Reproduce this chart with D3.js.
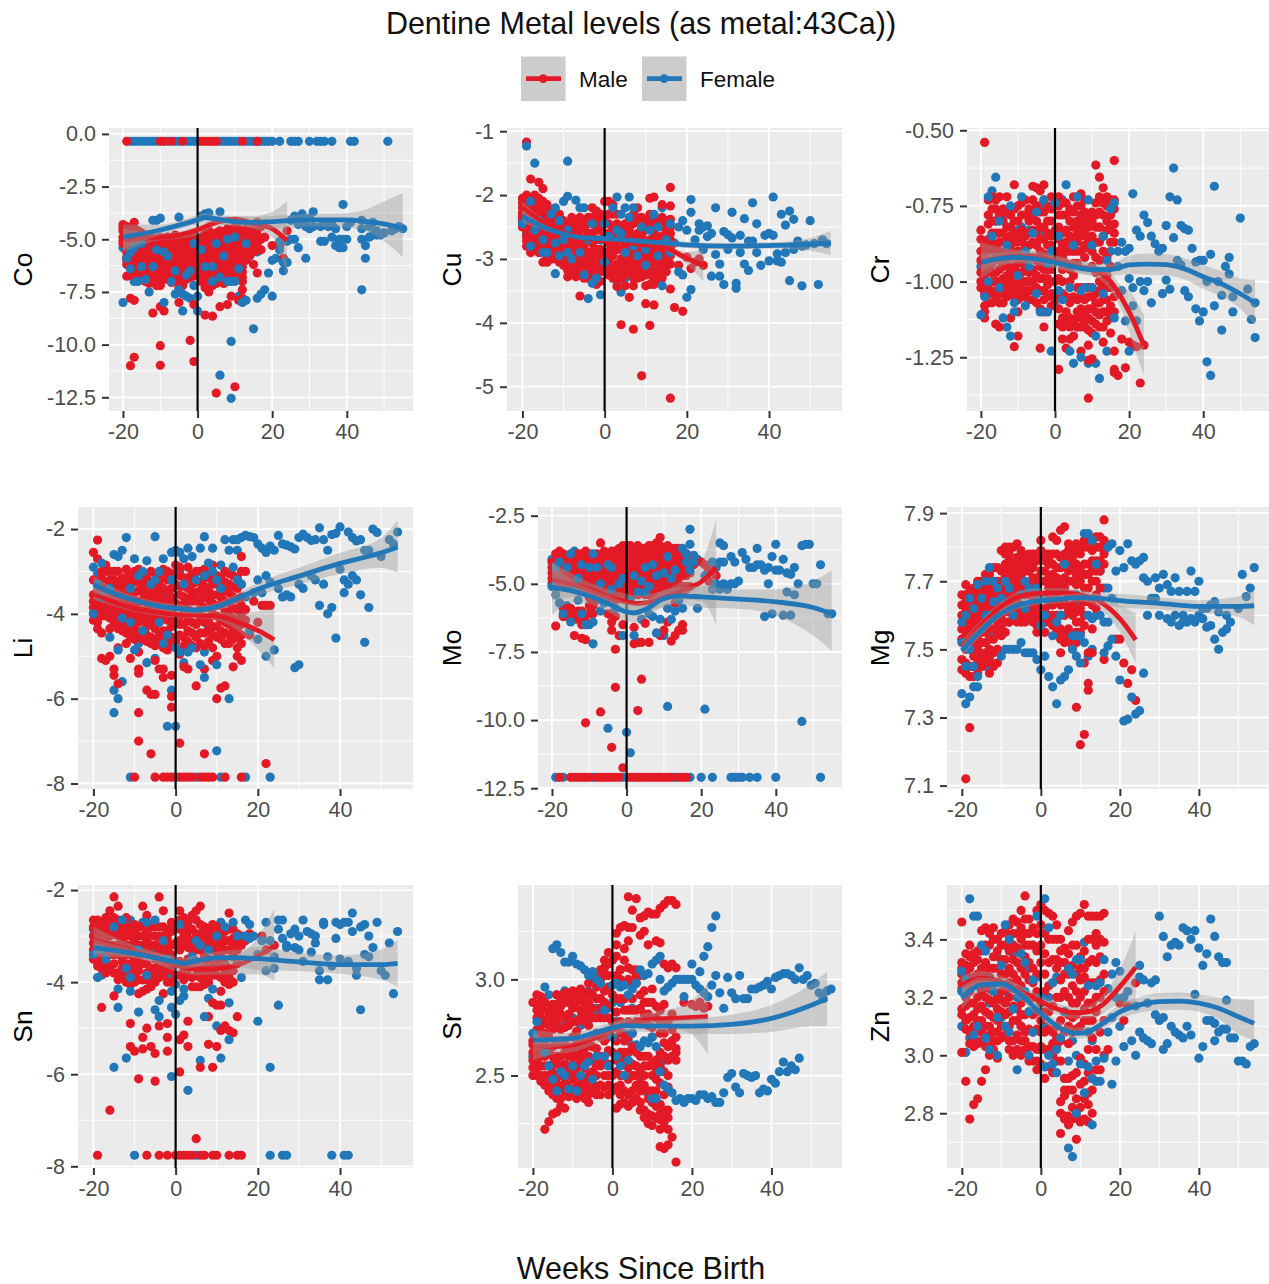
<!DOCTYPE html>
<html>
<head>
<meta charset="utf-8">
<script src="https://cdn.jsdelivr.net/npm/d3@7"></script>
<style>
  body { margin: 0; background: #fff; }
  text { font-family: "Liberation Sans", Arial, sans-serif; }
</style>
</head>
<body>
<svg id="chart" width="1269" height="1284"></svg>
<script>
// each row: week first, then the values read at that week
const coMale = [[-20,-4.3,-4.6,-4.9,-5.2],[-19,-4.4,-4.8,-5.6,-6,-6.2,-6.75],[-18,-4.5,-4.9,-5.4,-5.8,-6.3,-6.7,-7.8,-11],[-17,-4.2,-4.7,-5.3,-5.7,-6.1,-6.5,-7.9,-10.6],[-16,-4.6,-5.2,-5.5,-5.9,-6.3,-6.6],[-15,-4.7,-5.1,-5.6,-6,-6.4,-6.9],[-14,-4.8,-5.3,-5.8,-6.2,-6.6,-7],[-13,-5,-5.4,-5.7,-6.1,-6.6,-7.1],[-12,-4.9,-5.5,-5.9,-6.3,-6.8,-8.5],[-11,-5.1,-5.6,-6,-6.5,-7,-7.2],[-10,-4.9,-5.4,-5.8,-6.2,-6.7,-7.2,-8.2,-10.05,-10.98],[-9,-5,-5.5,-6,-6.4,-6.9,-8.4],[-8,-4.9,-5.3,-5.7,-6.1,-6.6,-6.9],[-7,-5.1,-5.6,-6,-6.5,-6.9],[-6,-4.8,-5.2,-5.8,-6.2,-6.7,-7],[-5,-5,-5.5,-5.9,-6.4,-6.8,-7.3,-8],[-4,-4.9,-5.4,-5.8,-6.3,-6.9,-7.2],[-3,-5.1,-5.6,-6.1,-6.7],[-2,-4.8,-5.3,-5.7,-6.2,-6.8,-9.8],[-1,-5,-5.5,-6,-6.5,-8.1,-10.8],[1,-4.9,-5.4,-5.9,-6.4,-7],[2,-4.7,-5.2,-5.6,-6.1,-6.7,-7.3,-8.6],[3,-4.6,-5.1,-5.7,-6.2,-6.8,-7.5],[4,-4.8,-5.3,-5.8,-6.3,-7.2,-8.65],[5,-4.7,-5.2,-5.6,-6.1,-6.6,-7.1,-12.3],[6,-4.6,-5.1,-5.5,-6,-6.5,-7,-8.2],[7,-4.7,-5.3,-5.8,-6.3,-6.8,-7.1],[8,-4.5,-5,-5.6,-6.1,-6.5,-8.1],[9,-4.6,-5.2,-5.7,-6.2,-6.6,-7.7],[10,-4.4,-4.9,-5.4,-5.9,-6.4,-12],[11,-4.5,-5,-5.5,-6,-6.5,-7.9],[12,-4.6,-5.2,-5.7,-6.3,-6.8,-7,-7.4,-7.8],[13,-4.5,-5,-5.4,-5.9,-6],[14,-4.6,-5.1,-5.5],[15,-4.5,-5,-5.3,-6.2],[16,-4.2,-4.8,-5.1,-6.6],[17,-4.4,-5,-5.5],[18,-4.9],[20,-5.3],[22,-5.3],[23,-5.9],[24,-4.6]];
const coMaleDense = [[-20,-4.45,-5.05],[-19,-4.6,-5.2,-5.85],[-18,-4.7,-5.15,-5.55,-6.05],[-17,-4.5,-5,-5.5,-5.9,-6.3],[-16,-4.9,-5.35,-5.7,-6.1,-6.45],[-15,-4.9,-5.35,-5.8,-6.2,-6.6],[-14,-5.05,-5.55,-6,-6.45,-6.8],[-13,-5.2,-5.55,-5.9,-6.35,-6.85],[-12,-5.2,-5.7,-6.1,-6.55,-7],[-11,-5.35,-5.8,-6.25,-6.75],[-10,-5.15,-5.6,-6,-6.45,-6.95],[-9,-5.25,-5.75,-6.2,-6.65],[-8,-5.1,-5.5,-5.9,-6.35,-6.75],[-7,-5.35,-5.8,-6.25,-6.7,-7.05],[-6,-5,-5.5,-6,-6.45,-6.85],[-5,-5.25,-5.7,-6.15,-6.6,-7],[-4,-5.15,-5.6,-6.05,-6.55],[-3,-4.9,-5.35,-5.85,-6.35,-6.9],[-2,-5.05,-5.5,-5.95,-6.5],[-1,-4.8,-5.25,-5.75,-6.25,-6.75],[0,-5.1,-5.6,-6.1,-6.6],[1,-5.15,-5.65,-6.15,-6.7],[2,-4.95,-5.4,-5.85,-6.4],[3,-4.85,-5.35,-5.95,-6.5,-7.1],[4,-5.05,-5.55,-6.05,-6.6,-6.9],[5,-4.95,-5.4,-5.85,-6.35,-6.85],[6,-4.85,-5.3,-5.75,-6.25,-6.75],[7,-5,-5.55,-6.05,-6.55],[8,-4.75,-5.3,-5.85,-6.3,-6.8],[9,-4.9,-5.45,-5.95,-6.4,-6.9],[10,-4.65,-5.15,-5.65,-6.15,-6.65],[11,-4.75,-5.25,-5.75,-6.25,-6.75],[12,-4.9,-5.45,-6,-6.55],[13,-4.75,-5.2,-5.65],[14,-4.85,-5.3,-5.75],[15,-4.75,-5.15,-5.6],[16,-4.55,-5.3,-5.5]];
const coFemale = [[-20,-5.4,-8],[-19,-5.9,-4.9],[-18,-6.4,-5.6],[-17,-7,-5.4],[-16,-7,-6.2],[-15,-6.3,-5.2],[-14,-5.5,-6.9],[-13,-7.5,-5.6],[-12,-4.1,-6.3],[-11,-4.1,-5.5],[-10,-4,-6.2],[-9,-8,-5.6],[-8,-6.5,-5.8],[-7,-7,-5.5],[-6,-7.6,-6.5],[-5,-3.95,-7.4],[-4,-8.4,-7.6],[-3,-7.7,-6.7],[-2,-7.8,-6.5],[-1,-5.2,-7.2],[0,-8.4,-7.7,-6],[1,-3.9,-5.5],[2,-3.8,-6.3],[3,-3.75,-5.9],[4,-6.3,-7],[5,-6.2,-5.2],[6,-3.7,-11.45,-6.8],[7,-5.8,-6.2],[8,-5,-7],[9,-12.55,-9.85,-7,-5.1],[10,-7,-4.9],[11,-7.7,-6.4],[12,-8,-5.6],[13,-7.9,-5.2],[14,-5.8],[15,-9.25],[16,-7.8,-5.6],[17,-7.6],[18,-7.4],[19,-6.6],[20,-7.7,-6],[21,-5.9],[22,-5.1,-5.5],[23,-6.5,-6.1],[24,-6.1,-5.1],[25,-5,-4.1],[26,-5,-3.9],[27,-5.4,-4.3],[28,-3.8,-4.2],[29,-5.9,-4.4],[30,-4.5,-4],[31,-3.7,-4.4],[33,-5.1,-4.4],[34,-5.1,-4.3],[35,-4.4],[36,-4.9,-4.3],[37,-5.3,-4.5],[38,-5,-5.4],[39,-5.4,-5,-3.35],[40,-5,-4.4],[41,-4.2],[44,-5,-4.1,-4.5,-7.4],[45,-5.3,-5.9],[46,-4.9,-4.4],[47,-4.8,-4.2],[48,-4.6,-4.8],[49,-4.8],[50,-4.7],[52,-4.6],[53,-4.5],[54,-4.4],[55,-4.5]];
const coMaleEdge = [-19,-10,-9,-7,-4,1,2,3,4,5,12,16];
const coFemaleEdge = [-18,-17,-16,-15,-14,-13,-12,-11,-8,-6,-5,-3,-2,-1,0,6,7,8,9,10,11,13,14,15,16,17,18,19,20,22,25,26,27,30,32,33,34,36,41,42,51];

const cuMale = [[-20,-2.05,-2.2,-2.35,-2.5],[-19,-1.17,-2,-2.15,-2.3,-2.55,-2.8],[-18,-1.75,-2.1,-2.3,-2.45,-2.65,-2.9],[-17,-2,-2.2,-2.4,-2.6,-2.75],[-16,-1.8,-2.05,-2.3,-2.5,-2.7,-2.9],[-15,-1.9,-2.2,-2.4,-2.6,-2.8,-3.05],[-14,-2.15,-2.35,-2.55,-2.75,-2.95],[-13,-2.25,-2.45,-2.65,-2.85,-3],[-12,-2.25,-2.5,-2.7,-2.95],[-11,-2.3,-2.5,-2.75,-2.9,-3.05],[-10,-2.4,-2.6,-2.8,-3.1],[-9,-2.45,-2.7,-2.9,-3.1,-3.28],[-8,-2.35,-2.55,-2.75,-2.95,-3.1],[-7,-2.4,-2.6,-2.85,-3.05,-3.28],[-6,-2.35,-2.55,-2.8,-3.15,-3.58],[-5,-2.4,-2.7,-2.95,-3.15,-3.3],[-4,-2.35,-2.6,-2.9,-3.2],[-3,-2.2,-2.45,-2.75,-3,-3.25],[-2,-2.4,-2.7,-3,-3.4],[-1,-2.3,-2.55,-2.85,-3.1],[1,-2.1,-2.45,-2.75,-3,-3.25],[2,-2.15,-2.5,-2.8,-3.1,-3.3],[3,-2.3,-2.6,-2.85,-3.3,-3.43],[4,-2.7,-3,-3.15,-4.03],[5,-2.45,-2.75,-3.05,-3.25],[6,-2.55,-2.85,-3.1,-3.6],[7,-2.3,-2.65,-2.95,-3.2,-3.42,-4.1],[8,-2.2,-2.6,-2.9,-3.1,-3.3],[9,-2.35,-2.65,-3,-3.15,-4.83],[10,-2.4,-2.8,-3.05,-3.42,-3.7],[11,-2.05,-2.3,-2.7,-3,-3.4,-4.04],[12,-2.03,-2.45,-2.75,-3.2,-3.4,-3.72],[13,-2.4,-2.65,-2.95,-3.2],[14,-2.15,-2.5,-2.85,-3,-3.3],[15,-2.4,-2.6,-2.8,-3.05],[16,-1.88,-2.17,-2.5,-2.7,-2.95,-3.47,-5.18],[17,-3.76],[18,-3.1],[19,-3.82],[20,-2.97],[21,-3.15],[22,-3.05],[23,-3],[24,-3.1]];
const cuMaleDense = [[-20,-2.12,-2.28,-2.42],[-19,-2.08,-2.22,-2.4,-2.48,-2.65,-2.72],[-18,-2.2,-2.38,-2.55,-2.75,-2.82],[-17,-2.1,-2.3,-2.5,-2.68,-2.85],[-16,-2.15,-2.4,-2.6,-2.8],[-15,-2.1,-2.3,-2.5,-2.7,-2.9],[-14,-2.25,-2.45,-2.65,-2.85,-3.05],[-13,-2.35,-2.55,-2.75,-2.93],[-12,-2.35,-2.6,-2.82,-3],[-11,-2.4,-2.62,-2.82,-2.98],[-10,-2.5,-2.7,-2.9,-3],[-9,-2.55,-2.8,-3,-3.18],[-8,-2.45,-2.65,-2.85,-3.02,-3.2],[-7,-2.5,-2.72,-2.95,-3.15],[-6,-2.45,-2.65,-2.9,-3.05,-3.25],[-5,-2.5,-2.82,-3.05,-3.22],[-4,-2.45,-2.72,-3,-3.1,-3.3],[-3,-2.35,-2.6,-2.88,-3.12],[-2,-2.25,-2.55,-2.85,-3.15,-3.28],[-1,-2.42,-2.7,-2.98,-3.2,-3.35],[0,-2.1,-2.35,-2.6,-2.95,-3.2],[1,-2.3,-2.6,-2.88,-3.12],[2,-2.3,-2.65,-2.95,-3.2],[3,-2.45,-2.72,-3.08,-3.2],[4,-2.5,-2.85,-3.08,-3.3],[5,-2.6,-2.9,-3.15,-3.42],[6,-2.4,-2.7,-2.98,-3.2],[7,-2.45,-2.8,-3.08,-3.3],[8,-2.4,-2.75,-3,-3.2],[9,-2.5,-2.82,-3.08,-3.28],[10,-2.55,-2.92,-3.15,-3.25],[11,-2.5,-2.85,-3.15,-3.25],[12,-2.6,-2.9,-3.05,-3.3],[13,-2.5,-2.8,-3.08,-3.35],[14,-2.35,-2.65,-2.92,-3.15],[15,-2.5,-2.7,-2.92,-3.2],[16,-2.38,-2.6,-2.82,-3.08]];
const cuFemale = [[-20,-2.35,-2.45],[-19,-1.23,-2.6],[-18,-2.1,-2.8],[-17,-1.5,-2.55],[-16,-2.4,-2.65],[-15,-2.7,-2.9],[-14,-2.4,-2.9],[-13,-2.3,-3],[-12,-2.2,-2.75,-3.23],[-11,-2.4,-2.95],[-10,-2.1,-2.7],[-9,-1.47,-2.02,-2.55,-2.9],[-8,-2.45,-3],[-7,-2.08,-2.6],[-6,-2.2,-2.9],[-5,-2.2,-3.25],[-4,-2.7,-3.62],[-3,-2.45,-3.38],[-2,-2.9,-3.3],[-1,-2.7,-3.56],[0,-2.45,-3.05],[1,-2.9,-2.65],[2,-2.2,-3.15],[3,-2.03,-2.55,-3.35],[4,-2.3,-2.6,-3.52],[5,-2.2,-2.9,-3.3],[6,-2.03,-2.35,-3.2],[7,-2.2,-2.8],[8,-2.35,-2.95],[9,-2.5,-2.75],[10,-2.85,-3.1],[11,-2.4,-2.55],[12,-2.3,-2.7],[13,-2.5,-2.95],[14,-2.2,-3.42],[15,-2.7,-3.1],[16,-2.45,-2.9],[17,-2.75],[18,-2.5,-3.2],[19,-2.4,-3.25],[20,-2.55,-3.6],[21,-2.07,-2.27,-3.48],[22,-2.7],[23,-2.45,-2.55],[24,-2.5,-2.85],[25,-2.48,-2.65],[26,-2.6,-3.27],[27,-2.2,-2.93],[28,-3.08,-3.27],[29,-2.57,-3.4],[30,-2.62,-2.85],[31,-2.27,-2.67],[32,-3.38,-3.46],[33,-2.63,-2.9],[34,-2.37,-3.08],[35,-2.72,-3.18],[36,-2.12,-2.72],[37,-2.45,-2.9],[38,-3.1],[39,-2.63],[40,-2.6,-3.03],[41,-2.03,-2.63],[42,-2.92,-3.03],[43,-2.3,-3.05],[44,-2.47,-2.9],[45,-2.25,-3.34],[46,-2.38,-2.85],[47,-2.72],[48,-2.8,-3.42],[49,-2.78],[50,-2.4],[51,-2.76],[52,-3.4],[53,-2.7],[54,-2.76]];

const crMale = [[-20,-0.83,-0.9,-0.97,-1.02],[-19,-0.54,-0.88,-0.95,-1,-1.08,-1.12],[-18,-0.73,-0.78,-0.86,-0.93,-1.02,-1.07],[-17,-0.72,-0.8,-0.87,-0.94,-1,-1.07],[-16,-0.73,-0.8,-0.88,-0.97,-1.03,-1.14],[-15,-0.72,-0.84,-0.9,-0.96,-1.04,-1.15],[-14,-0.76,-0.84,-0.91,-0.99,-1.04],[-13,-0.72,-0.82,-0.9,-0.98,-1.05],[-12,-0.78,-0.85,-0.92,-1,-1.04,-1.12],[-11,-0.68,-0.8,-0.87,-0.95,-1.02,-1.215],[-10,-0.75,-0.85,-0.9,-0.97,-1.03,-1.1,-1.18],[-9,-0.74,-0.83,-0.9,-0.97,-1.02],[-8,-0.73,-0.85,-0.92,-1,-1.05],[-7,-0.8,-0.88,-0.97,-1.03],[-6,-0.685,-0.73,-0.83,-0.92,-1,-1.06],[-5,-0.69,-0.8,-0.88,-0.98,-1.07],[-4,-0.7,-0.82,-0.9,-0.99,-1.09,-1.22],[-3,-0.68,-0.77,-0.86,-0.96,-1.03,-1.1,-1.15],[-2,-0.8,-0.88,-0.96,-1.01],[-1,-0.76,-0.85,-0.92,-1,-1.08],[1,-0.72,-0.78,-0.86,-0.93,-1.05,-1.14,-1.29],[2,-0.74,-0.84,-0.92,-1,-1.15,-1.19],[3,-0.78,-0.87,-0.94,-1.1,-1.22],[4,-0.76,-0.85,-0.96,-1.12,-1.15],[5,-0.72,-0.82,-0.9,-0.98,-1.14],[6,-0.8,-0.87,-0.94,-1.06,-1.12],[7,-0.71,-0.78,-0.85,-1.05,-1.12,-1.23],[8,-0.77,-0.84,-0.92,-1.06,-1.15],[9,-0.82,-0.89,-1.05,-1.16,-1.21,-1.26,-1.385],[10,-0.8,-0.9,-1.02,-1.09,-1.17,-1.255],[11,-0.615,-0.74,-0.82,-0.92,-1.04,-1.1],[12,-0.655,-0.77,-0.87,-1,-1.07,-1.15],[13,-0.69,-0.74,-0.85,-1.02,-1.1,-1.2],[14,-0.75,-0.83,-0.98,-1.06,-1.13],[15,-0.73,-0.82,-0.95,-1.08,-1.17],[16,-0.6,-0.76,-0.81,-0.87,-1.23,-1.29,-1.3],[17,-1.31],[18,-1.19],[19,-1.285],[20,-1.2],[21,-1.21],[22,-1.215],[23,-1.335],[24,-1.21]];
const crMaleDense = [[-20,-0.86,-0.93,-1],[-19,-0.91,-0.98,-1.04,-1.1],[-18,-0.81,-0.89,-0.96,-1.04],[-17,-0.76,-0.84,-0.9,-0.97,-1.04],[-16,-0.76,-0.84,-0.92,-1,-1.06],[-15,-0.78,-0.87,-0.93,-1,-1.07],[-14,-0.8,-0.87,-0.95,-1.02,-1.07],[-13,-0.77,-0.86,-0.94,-1.01],[-12,-0.82,-0.89,-0.96,-1.02],[-11,-0.76,-0.84,-0.91,-0.98,-1.05],[-10,-0.8,-0.87,-0.94,-1,-1.06],[-9,-0.78,-0.86,-0.93,-1,-1.05],[-8,-0.78,-0.88,-0.95,-1.03],[-7,-0.76,-0.84,-0.92,-1,-1.06],[-6,-0.78,-0.87,-0.96,-1.03],[-5,-0.75,-0.84,-0.93,-1.02],[-4,-0.77,-0.86,-0.95,-1.03],[-3,-0.73,-0.82,-0.91,-0.99,-1.06],[-2,-0.75,-0.84,-0.92,-0.99,-1.05],[-1,-0.72,-0.8,-0.88,-0.96,-1.04],[0,-0.74,-0.83,-0.91,-1,-1.06],[1,-0.75,-0.82,-0.9,-0.99,-1.09],[2,-0.78,-0.88,-0.96,-1.04,-1.12],[3,-0.74,-0.83,-0.9,-1.05,-1.14],[4,-0.8,-0.9,-1,-1.07,-1.19],[5,-0.77,-0.86,-0.94,-1.05,-1.18],[6,-0.75,-0.84,-0.9,-1.02,-1.1,-1.15],[7,-0.75,-0.82,-0.9,-1.02,-1.09,-1.15],[8,-0.73,-0.8,-0.88,-1.02,-1.1,-1.13],[9,-0.78,-0.86,-1.02,-1.09,-1.12],[10,-0.77,-0.85,-0.95,-1.05,-1.13],[11,-0.78,-0.87,-0.97,-1.07,-1.14],[12,-0.72,-0.82,-0.93,-1.03,-1.11],[13,-0.78,-0.9,-1,-1.06,-1.15],[14,-0.72,-0.8,-0.92,-1.02,-1.1],[15,-0.78,-0.87,-1.02,-1.12],[16,-0.73,-0.84,-1.05,-1.1]];
const crFemale = [[-20,-0.95,-1.11],[-19,-1.05,-0.9],[-18,-0.72,-1],[-17,-0.7,-0.85],[-16,-0.655,-0.8],[-15,-0.8,-1.02],[-14,-0.78,-1.12],[-13,-0.88,-1.15],[-12,-0.75,-1.18],[-11,-0.76,-1.07,-1.1],[-10,-0.83,-0.98],[-9,-0.72,-0.82],[-8,-1.08,-0.9],[-7,-0.83,-0.95],[-6,-0.84,-1],[-5,-0.77,-1.04],[-4,-0.75,-1.1],[-3,-0.73,-0.84],[-2,-0.94,-1.1],[-1,-1.23,-0.9],[0,-0.74,-1.08],[1,-0.85,-1.03],[2,-0.73,-1.06],[3,-0.68,-0.88],[4,-1.23,-1.02],[5,-1.27,-0.88],[6,-0.72,-1.15],[7,-1.25,-1.03],[8,-0.78,-1.02],[9,-0.73,-1.27],[10,-0.88,-1.02],[11,-1.27,-1.18],[12,-1.32,-0.82],[13,-0.85,-1.04],[14,-1.23,-0.93],[15,-0.76,-0.9],[16,-0.74,-1.12],[17,-0.9,-0.95],[18,-0.87,-1.03],[19,-0.9,-1.13],[20,-0.89,-1.23,-0.99],[21,-0.71,-1.08,-1.02],[22,-0.83,-1.13],[23,-0.85,-1],[24,-0.78,-1.03],[25,-0.805,-1],[26,-0.85,-1.07],[27,-0.875],[28,-0.9],[29,-0.89,-1.04],[30,-0.815,-0.995],[31,-0.72,-1.025],[32,-0.625,-0.855],[33,-0.73,-0.93],[34,-0.815,-0.945],[35,-0.825,-1.03],[36,-0.83,-1.05],[37,-0.89],[38,-0.935,-1.09],[39,-0.93,-1.13],[40,-0.93,-1.1],[41,-1,-1.265],[42,-0.91,-1.31],[43,-0.685,-1.08],[44,-1],[45,-1.045,-1.16],[46,-0.95],[47,-0.92,-0.975],[48,-1.05,-1.1],[50,-0.79],[52,-1.025],[53,-1.125],[54,-1.185,-1.07]];

const liMale = [[-20,-2.55,-3.2,-3.7,-4.15],[-19,-2.26,-2.7,-3.3,-3.8,-4.05,-4.35],[-18,-3,-3.45,-3.9,-4.45,-5.05],[-17,-2.85,-3.3,-3.7,-4.05,-5.1],[-16,-3,-3.5,-3.9,-4.1,-5],[-15,-3,-3.4,-3.8,-4.25,-5.3,-5.45],[-14,-3,-3.5,-3.85,-4.35,-4.8,-5.65],[-13,-3.15,-3.55,-3.9,-4.2],[-12,-2.95,-3.35,-3.8,-4.45,-4.7],[-11,-3.3,-3.7,-4.1,-4.35,-5.05],[-10,-3,-3.5,-3.85,-4.35,-4.6],[-9,-2.95,-3.25,-3.7,-4.2,-4.9,-5.3,-5.4,-6.33,-7],[-8,-3.1,-3.5,-3.95,-4.4],[-7,-3.35,-3.75,-4.1,-4.5,-5.8],[-6,-3,-3.6,-4.05,-4.55,-5.9,-7.3],[-5,-3.25,-3.65,-4.1,-4.6,-5.1,-5.9],[-4,-3.1,-3.5,-4,-4.5,-5.3],[-3,-2.95,-3.4,-3.9,-4.4,-4.8,-5.3,-5.5],[-2,-3.2,-3.75,-4.15,-4.6],[-1,-3.4,-3.85,-4.3,-4.75,-5.45,-5.95,-6.2],[1,-2.9,-3.35,-3.8,-4.25,-4.95,-7.05],[2,-3.15,-3.6,-4,-4.55,-5.25],[3,-2.9,-3.4,-3.9,-4.4,-5.3],[4,-3.3,-3.7,-4.2,-4.75],[5,-3,-3.5,-3.95,-4.55,-5.7],[6,-3.25,-3.7,-4.1,-4.7],[7,-3.15,-3.6,-4.45,-5.3,-7.3],[8,-3.45,-3.85,-4.4],[9,-2.85,-3.3,-3.75,-4.5,-5.1],[10,-3.1,-3.55,-4.3,-5,-6],[11,-3.4,-3.8,-4.4,-5.75],[12,-3.25,-3.7,-4.2,-4.7,-5.7],[13,-3.05,-3.5,-3.95,-4.5],[14,-3.1,-3.6,-4.1,-4.4,-5.25],[15,-3.4,-3.9,-4.4,-4.8,-5],[16,-2.65,-3,-3.6,-4,-4.5,-5.1],[17,-3,-3.9,-4.15],[18,-4.5],[19,-3.7],[20,-4.2],[21,-3.8],[22,-3.8,-7.53],[23,-3.8]];
const liMaleDense = [[-20,-3.55,-3.85,-4],[-19,-3.45,-3.65,-3.95,-4.2],[-18,-3.15,-3.6,-3.75,-4.05],[-17,-3,-3.5,-3.85,-4],[-16,-3.2,-3.65,-3.8,-4.35],[-15,-3.2,-3.6,-3.95,-4.15],[-14,-3.25,-3.65,-4.05,-4.2],[-13,-3.35,-3.7,-4.05,-4.4],[-12,-3.15,-3.55,-3.95,-4.3],[-11,-3.1,-3.5,-3.9,-4.2,-4.55],[-10,-3.25,-3.7,-4.05,-4.5],[-9,-3.45,-3.9,-4.05,-4.45],[-8,-3.3,-3.7,-4.15,-4.6],[-7,-3.15,-3.55,-3.9,-4.3,-4.65],[-6,-3.4,-3.8,-4.25,-4.7],[-5,-3.05,-3.45,-3.85,-4.35,-4.75],[-4,-3.3,-3.7,-4.2,-4.7],[-3,-3.15,-3.65,-4.1,-4.55],[-2,-3,-3.45,-3.95,-4.4,-4.85],[-1,-3.05,-3.6,-4.05,-4.55],[0,-2.85,-3.3,-3.75,-4.2,-4.65],[1,-3.1,-3.55,-4.05,-4.5],[2,-3.35,-3.8,-4.25,-4.75],[3,-3.15,-3.65,-4.15,-4.65],[4,-3.05,-3.5,-3.95,-4.45],[5,-3.25,-3.7,-4.25,-4.8],[6,-3,-3.45,-3.9,-4.45],[7,-2.95,-3.35,-3.85,-4.2,-4.75],[8,-3.15,-3.65,-4.15,-4.65],[9,-3.05,-3.55,-4,-4.3,-4.8],[10,-3.3,-3.8,-4.05,-4.55],[11,-3.15,-3.6,-4.15,-4.6],[12,-3,-3.45,-3.95,-4.45],[13,-3.3,-3.75,-4.25,-4.7],[14,-3.35,-3.85,-4.25,-4.6],[15,-3.15,-3.65,-4.15,-4.55],[16,-3.3,-3.8,-4.25,-4.7]];
const liFemale = [[-20,-2.9,-4],[-19,-3.3,-3.05],[-18,-2.8,-3.6],[-16,-4.55,-3.4],[-15,-2.6,-5.8,-6.33],[-14,-2.65,-6,-4.85],[-13,-2.5,-5.6,-4.1],[-12,-2.2,-3.2],[-11,-3.4,-4.2],[-10,-2.7,-4.85],[-9,-3.1,-4.7],[-8,-3,-4.4],[-7,-2.75,-5.15],[-6,-3.3,-4.6],[-5,-2.18,-3.2,-5.05],[-4,-3,-4.2],[-3,-2.7,-4.7],[-2,-6.65,-3.5,-4.5],[-1,-2.55,-5.8,-3.2],[0,-2.5,-6.65,-4.8],[1,-2.55,-3,-4.9],[2,-2.7,-5.15,-3.3],[3,-2.45,-3.7,-4.9],[4,-2.65,-3.1,-4.8],[5,-3.2,-4.5],[6,-2.45,-5.2,-3.5],[7,-2.18,-5.5,-4.9,-3.1],[8,-2.8,-4.3],[9,-2.45,-3],[10,-7.23,-5.2,-3.2],[11,-2.85,-3.4],[12,-2.25,-3],[13,-2.5,-6,-3.4],[14,-2.25,-2.9],[15,-2.5,-2.25,-3.2],[16,-2.2,-3.3],[17,-2.15,-3.6],[18,-2.18,-4.4],[19,-2.2,-3.5],[20,-2.35,-3.2,-4.6],[21,-2.45,-3.5],[22,-2.55,-3.1,-5],[23,-2.4,-3.25],[24,-2.5,-4.85],[25,-2.15,-3.4],[26,-2.35,-3.6],[27,-2.38,-3.55],[28,-2.42,-3.6],[29,-2.47,-5.27],[30,-2.2,-3.3,-5.2],[31,-2.12,-3.4],[32,-2.2],[33,-2.27,-3.1],[34,-2.25,-3.2],[35,-1.97,-3.8],[36,-2.25,-3.3],[37,-2.5,-4],[38,-2.13,-3.85],[39,-2.1,-4.57],[40,-1.95,-2.95],[41,-3.2,-3.5],[42,-2.07,-3.3],[43,-2.2,-3.1],[44,-2.28,-3.2],[45,-2.25,-3.55],[46,-2.5,-4.67],[47,-2.5,-3.85],[48,-2],[49,-2.08],[50,-2.65],[52,-2.25],[53,-2.35],[54,-2.07]];
const liMaleEdge = [-10,-5,-3,-2,-1,1,2,3,4,6,7,8,9,12,16];
const liFemaleEdge = [-11,0,5,11,17,23];

const moMale = [[-20,-4.2,-4.6,-5],[-19,-3.9,-4.4,-4.8,-6.55],[-18,-3.8,-4.3,-4.7,-5.1],[-17,-4.1,-4.5,-4.9,-5.9],[-16,-4,-4.6,-5,-6,-6.2],[-15,-4.3,-4.8,-5.9,-6.3],[-14,-4,-4.5,-4.9,-6.1,-6.9],[-13,-4.1,-4.7,-5.1,-6.2,-6.3],[-12,-3.9,-4.4,-4.8,-6,-6.5,-7],[-11,-3.8,-4.3,-4.9,-5.2,-6.4,-7.05,-10.1],[-10,-4.1,-4.6,-5,-5.5,-6.1],[-9,-4,-4.5,-5.1,-5.6,-6.1],[-8,-3.9,-4.3,-4.9,-5.3],[-7,-3.5,-4.2,-4.7,-5.2,-9.7],[-6,-4,-4.5,-5,-5.5],[-5,-3.9,-4.4,-4.8,-5.4,-6.1],[-4,-3.8,-4.2,-4.9,-6.4,-6.7,-11],[-3,-4,-4.5,-5.3,-6.2,-7.4,-8.8],[-2,-3.9,-4.3,-4.7,-5.1,-6.9],[-1,-3.6,-4.1,-4.6,-5,-5.5,-6.5],[1,-3.6,-4,-4.5,-5,-5.5],[2,-3.7,-4.2,-4.6,-5.1,-6.6,-7.2],[3,-3.8,-4.3,-4.8,-5.4,-7.15,-9.65],[4,-3.7,-4.1,-4.6,-5,-7.15,-8.5],[5,-4,-4.4,-4.9,-5.4,-6.45],[6,-3.6,-4.2,-4.7,-5.2,-7.15],[7,-3.8,-4.3,-4.8,-5.6],[8,-3.5,-4,-4.5,-5,-5.5],[9,-3.3,-3.9,-4.4,-4.9,-6.9],[10,-3.7,-4.2,-4.7,-5.2,-6.7],[11,-3.8,-4.3,-4.8,-5.4,-6.4],[12,-3.7,-4.1,-4.6,-5.1,-7.1],[13,-3.7,-4.3,-4.8,-5.7,-6.9],[14,-3.8,-4.5,-5,-6.7],[15,-4,-4.4,-5.1,-6.5,-6.7],[16,-3.9,-4.5,-5.1],[17,-4.6,-5.1],[18,-4.3],[20,-4.2],[21,-4.3],[22,-4.5,-4.9],[24,-4.7]];
const moMaleDense = [[-20,-4.4,-4.8],[-19,-4.2,-4.6,-5],[-18,-4.1,-4.5,-4.9],[-17,-3.9,-4.3,-4.7,-5.1,-6.2],[-16,-4.2,-4.4,-4.8,-5.9],[-15,-4.1,-4.5,-5,-6.1],[-14,-4.2,-4.7,-5.1,-6.3],[-13,-3.9,-4.4,-4.9,-6],[-12,-4.1,-4.6,-5,-6.2],[-11,-4,-4.5,-4.7,-6.15],[-10,-3.9,-4.3,-4.8,-5.2,-5.8],[-9,-4.2,-4.7,-4.9,-5.3,-5.8],[-8,-4.1,-4.6,-5.1,-5.5],[-7,-4,-4.4,-4.9,-5.4],[-6,-3.8,-4.2,-4.7,-5.2],[-5,-4.1,-4.6,-5.1,-5.6],[-4,-4,-4.5,-5.1,-5.5,-6.1],[-3,-3.8,-4.2,-4.7,-5,-5.6],[-2,-3.7,-4.1,-4.5,-4.9,-5.3],[-1,-3.8,-4.3,-4.8,-5.2],[0,-3.6,-3.9,-4.4,-4.9,-5.3],[1,-3.8,-4.2,-4.7,-5.2],[2,-3.9,-4.4,-4.8,-5.3],[3,-3.6,-4.1,-4.5,-5,-5.2],[4,-3.9,-4.3,-4.8,-5.2],[5,-3.7,-4.2,-4.6,-5.1],[6,-3.9,-4.4,-4.9,-5.4],[7,-3.6,-4,-4.5,-5,-5.3],[8,-3.7,-4.2,-4.7,-5.2],[9,-3.6,-4.1,-4.6,-5.1],[10,-3.9,-4.4,-4.9,-5.4],[11,-3.6,-4,-4.5,-5.1],[12,-3.9,-4.3,-4.8,-5.3],[13,-4,-4.5,-5.1,-5.4],[14,-3.7,-4.2,-4.7,-5.3],[15,-3.8,-4.2,-4.7,-5.3],[16,-4.1,-4.7,-5.2]];
const moFemale = [[-20,-4.1,-5.1],[-19,-4.4,-5.4],[-18,-4.2,-5.7],[-17,-4.6,-6.1],[-16,-4.4,-5.8],[-15,-3.9,-6.4],[-14,-3.8,-5.1],[-13,-4.8,-5.6],[-12,-4.3,-6.1],[-11,-4.9,-6.5],[-10,-4.4,-6.5],[-9,-3.9,-7.2,-5.5,-6.4],[-8,-4.4,-5.6],[-7,-5,-6],[-6,-4.5,-5.7],[-5,-4.3,-10.3],[-4,-4.4,-5.2],[-3,-4.8,-5.9],[-2,-5,-5.5],[-1,-4.8,-6.9],[0,-4.6,-10.45],[1,-5.6,-11.2],[2,-4.7,-6.9],[3,-4.5,-5.3],[4,-4.9,-6.3],[5,-4.4,-5.3],[6,-6.1,-5.1],[7,-4.3,-6.2],[8,-4.7,-6.8],[9,-4.7,-6.3],[10,-4.6,-6.9],[11,-4,-9.5,-5.9],[12,-4.8,-6.3],[13,-3.9,-4.5,-6],[14,-3.8,-5.6],[15,-3.7,-5.9],[16,-3.9,-4.2],[17,-3,-3.55,-4.5],[18,-3.95,-4.2],[19,-5.9,-4.1],[21,-9.6,-4.7],[22,-4.6],[23,-4.2,-5.2],[24,-4.4,-5],[25,-3.5,-4.2,-5.2],[26,-3.6,-4.2,-5],[27,-5.2],[28,-4,-5],[29,-4.2,-5],[30,-4.9],[31,-3.85],[32,-4.1],[33,-4.4],[34,-4.4],[35,-3.7,-4.3],[36,-4.3],[37,-4.5,-6.2],[38,-4.4,-5],[39,-4,-6.1],[40,-3.55,-4.5],[41,-4.5],[42,-4.1,-6.15],[43,-4.6,-5.3],[44,-4.65,-6.15],[45,-4.4,-5.4],[46,-5],[47,-3.6,-10.05],[48,-3.55],[49,-3.55],[50,-5],[51,-5],[52,-4.3],[54,-6.1],[55,-6.1]];
const moMaleEdge = [-18,-15,-14,-13,-12,-11,-10,-8,-7,-6,-5,-4,-3,-2,1,2,3,4,5,6,7,8,9,10,11,12,14,15,16];
const moFemaleEdge = [-19,-17,-9,0,-1,13,17,20,23,28,29,30,31,33,35,40,52];
const moMaleExtra = [[-1,-11.75]];

const mgMale = [[-20,7.44,7.53,7.6,7.66],[-19,7.12,7.43,7.5,7.58,7.64,7.69],[-18,7.27,7.42,7.5,7.56,7.62,7.67],[-17,7.42,7.48,7.55,7.6,7.66],[-16,7.43,7.5,7.56,7.62,7.68],[-15,7.45,7.52,7.58,7.64,7.7],[-14,7.46,7.52,7.57,7.63,7.69],[-13,7.43,7.5,7.56,7.62,7.68,7.72],[-12,7.45,7.53,7.6,7.66,7.74],[-11,7.46,7.55,7.6,7.67,7.74],[-10,7.57,7.63,7.7,7.79],[-9,7.55,7.62,7.68,7.75,7.8],[-8,7.58,7.64,7.7,7.76,7.8],[-7,7.6,7.65,7.72,7.8],[-6,7.58,7.64,7.7,7.74,7.81],[-5,7.6,7.66,7.72,7.79],[-4,7.58,7.66,7.7,7.77],[-3,7.6,7.66,7.73,7.78],[-2,7.62,7.68,7.74,7.78],[-1,7.55,7.6,7.69,7.76],[0,7.56,7.62,7.7,7.77,7.82],[1,7.55,7.62,7.7,7.78],[2,7.58,7.68,7.75,7.76],[3,7.6,7.66,7.72,7.83],[4,7.55,7.6,7.68,7.74,7.82],[5,7.53,7.6,7.68,7.74,7.49,7.85],[6,7.52,7.6,7.68,7.75,7.86],[7,7.53,7.62,7.7,7.76,7.81],[8,7.51,7.6,7.66,7.74,7.8],[9,7.52,7.58,7.65,7.72,7.81,7.33],[10,7.55,7.62,7.7,7.78,7.22],[11,7.46,7.57,7.64,7.72,7.82,7.25],[12,7.38,7.4,7.49,7.64,7.72,7.8],[13,7.49,7.56,7.7,7.76,7.82],[14,7.62,7.7,7.76,7.83],[15,7.68,7.76,7.8],[16,7.47,7.75,7.79,7.88],[19,7.53],[20,7.53],[21,7.46],[22,7.4],[23,7.44],[24,7.35]];
const mgMaleDense = [[-20,7.47,7.56,7.63],[-19,7.46,7.54,7.61,7.66],[-18,7.45,7.53,7.59,7.65],[-17,7.45,7.52,7.58,7.63,7.68],[-16,7.46,7.53,7.59,7.65,7.7],[-15,7.48,7.55,7.61,7.67],[-14,7.49,7.55,7.6,7.66,7.72],[-13,7.47,7.53,7.59,7.65,7.7],[-12,7.49,7.56,7.63,7.7],[-11,7.5,7.58,7.63,7.7],[-10,7.54,7.6,7.66,7.73],[-9,7.58,7.65,7.71,7.78],[-8,7.61,7.67,7.73,7.78],[-7,7.62,7.68,7.75],[-6,7.61,7.67,7.72,7.77],[-5,7.58,7.63,7.69,7.75],[-4,7.6,7.68,7.73,7.75],[-3,7.63,7.69,7.75],[-2,7.58,7.65,7.71,7.76],[-1,7.57,7.63,7.71,7.78],[0,7.59,7.65,7.73,7.79],[1,7.58,7.65,7.73,7.76],[2,7.6,7.65,7.71,7.78],[3,7.57,7.63,7.69,7.75,7.78],[4,7.58,7.65,7.71,7.78],[5,7.56,7.63,7.7,7.77],[6,7.55,7.64,7.71,7.78],[7,7.56,7.66,7.73,7.79],[8,7.54,7.63,7.7,7.77],[9,7.55,7.61,7.69,7.75,7.79],[10,7.58,7.65,7.74,7.8],[11,7.6,7.68,7.75,7.8],[12,7.68,7.75,7.83],[13,7.63,7.73,7.79],[14,7.66,7.73,7.8],[15,7.73,7.83],[16,7.78,7.82]];
const mgFemale = [[-20,7.37,7.52,7.58],[-19,7.34,7.45,7.6],[-18,7.36,7.5,7.65],[-17,7.39,7.45,7.62],[-16,7.39,7.42,7.69],[-15,7.47,7.56,7.65],[-14,7.45,7.6,7.7],[-13,7.5,7.6,7.74],[-12,7.55,7.64,7.7],[-11,7.6,7.68],[-10,7.48,7.55,7.65],[-9,7.5,7.62,7.7],[-8,7.5,7.58,7.68],[-7,7.5,7.75,7.6],[-6,7.5,7.62],[-5,7.52,7.66],[-4,7.49,7.62,7.7],[-3,7.49,7.68],[-2,7.49,7.6],[-1,7.47,7.68],[0,7.44,7.57,7.65],[1,7.48,7.6],[2,7.42,7.63],[3,7.39,7.54,7.7],[4,7.34,7.58,7.65],[5,7.41,7.6],[6,7.42,7.75],[7,7.44,7.62],[8,7.5,7.54,7.78],[9,7.48,7.54,7.66],[10,7.46,7.54,7.64],[11,7.52,7.84],[12,7.48,7.6,7.84],[13,7.5,7.59,7.82],[14,7.6,7.75],[15,7.6,7.73],[16,7.49,7.58,7.68],[17,7.51,7.58,7.68,7.8],[18,7.53,7.65,7.81],[19,7.48,7.73],[20,7.41,7.79],[21,7.29,7.74],[22,7.295,7.81],[23,7.36,7.76],[24,7.31,7.75],[25,7.32,7.76],[26,7.43,7.77,7.71],[27,7.6,7.7],[28,7.65],[29,7.71,7.65],[30,7.68,7.6],[31,7.72],[32,7.59,7.69],[33,7.58,7.67],[34,7.71,7.6],[35,7.57,7.67],[36,7.6,7.58],[37,7.58,7.67],[38,7.73,7.59],[39,7.58,7.67],[40,7.7,7.6],[41,7.59,7.62],[42,7.565,7.62],[43,7.63,7.57],[44,7.53,7.64],[45,7.5,7.61],[46,7.55],[47,7.56,7.6],[48,7.58],[50,7.62],[51,7.72],[52,7.655],[53,7.68],[54,7.74]];

const snMale = [[-20,-2.65,-3,-3.3],[-19,-2.65,-3.05,-3.4,-3.65],[-18,-2.7,-3,-3.35,-3.7,-4.55],[-17,-2.6,-2.95,-3.3,-3.7],[-16,-2.45,-2.8,-3.25,-3.65,-6.78],[-15,-2.15,-2.75,-3.2,-3.6,-4.3],[-14,-2.35,-2.8,-3.2,-3.8],[-13,-2.7,-3.1,-3.55,-3.9],[-12,-2.6,-3,-3.4,-3.8],[-11,-2.85,-3.2,-3.6,-4.9,-5.4],[-10,-2.9,-3.25,-3.7,-4,-5.5],[-9,-3,-3.35,-3.75,-4.25,-6.1],[-8,-2.35,-3,-3.4,-4.2,-5.2,-5.45],[-7,-2.55,-3.05,-3.8,-4.15,-5],[-6,-2.8,-3.2,-3.7,-5.4],[-5,-3,-3.5,-4,-5.55,-6.15],[-4,-2.15,-2.8,-3.35,-3.9,-4.95],[-3,-2.45,-3,-3.65,-4.25],[-2,-3.05,-3.5,-4,-4.9,-5.2,-5.5],[-1,-2.7,-3.2,-3.75],[1,-2.45,-2.85,-3.3,-3.85,-5.25,-5.95],[2,-2.6,-3,-3.6,-3.95,-5.15],[3,-2.9,-3.25,-3.85,-4.85,-5.4],[4,-2.55,-3.1,-3.45,-4.1],[5,-2.45,-2.95,-3.3,-3.85,-7.4],[6,-2.35,-2.75,-3.1,-4.1,-5.85],[7,-2.8,-3.2,-3.65,-4.05],[8,-2.85,-3.25,-4,-5.35,-4.75],[9,-2.75,-3.1,-3.85,-4.45,-5.85],[10,-3,-3.35,-4.5,-5.4],[11,-2.9,-3.2,-4.2,-4.5,-5.05],[12,-3.1,-3.6,-4,-4.95],[13,-2.5,-3.1,-3.9,-5.05],[14,-2.85,-3.25,-3.75,-5.1],[15,-3.1,-3.6,-4.75],[16,-3.2],[17,-3.1],[18,-2.95],[21,-3],[22,-3.3],[24,-3.2]];
const snMaleDense = [[-20,-2.8,-3.15,-3.5],[-19,-2.85,-3.2,-3.55],[-18,-2.85,-3.15,-3.55],[-17,-2.8,-3.15,-3.5,-3.8],[-16,-2.65,-3,-3.4,-3.75],[-15,-2.6,-2.95,-3.4,-3.8],[-14,-2.65,-3,-3.4,-3.95],[-13,-2.9,-3.3,-3.7],[-12,-2.8,-3.2,-3.6,-4],[-11,-3,-3.4,-3.8,-4.05],[-10,-2.75,-3.1,-3.5,-3.85],[-9,-2.8,-3.2,-3.55,-3.95],[-8,-2.8,-3.2,-3.6,-3.95],[-7,-2.85,-3.25,-3.6,-3.95],[-6,-3,-3.4,-3.9,-4.1],[-5,-2.8,-3.2,-3.7,-3.85],[-4,-3,-3.15,-3.55,-3.7],[-3,-2.8,-3.2,-3.45,-3.85],[-2,-2.85,-3.3,-3.7],[-1,-2.9,-3.4,-3.55,-4],[0,-2.75,-3.15,-3.6,-3.85],[1,-2.65,-3.1,-3.55],[2,-2.8,-3.2,-3.75],[3,-2.7,-3.05,-3.5,-3.7],[4,-2.85,-3.3,-3.65,-3.9],[5,-2.65,-3.15,-3.55,-4.1],[6,-2.95,-3.3,-3.7,-3.9],[7,-3,-3.45,-3.85],[8,-3.05,-3.5,-3.8],[9,-2.95,-3.3,-3.65],[10,-2.8,-3.15,-3.6,-3.85],[11,-3.05,-3.45,-3.9],[12,-2.9,-3.3,-3.8],[13,-2.85,-3.3,-3.7,-4.05],[14,-3.05,-3.45,-4],[15,-2.95,-3.3],[16,-3]];
const snFemale = [[-20,-2.85,-3.4],[-19,-3.9],[-18,-3.85,-3.3],[-17,-3.5],[-16,-3.2],[-15,-5.85,-2.8],[-14,-4.15,-4.55],[-13,-2.65,-3.4],[-12,-5.65,-3.7],[-11,-2.65,-4.2,-3.9],[-10,-3.6],[-9,-4.65,-3.3],[-8,-2.7],[-7,-2.7,-3.85],[-6,-3.3],[-5,-2.65,-4.6],[-4,-4.75,-4.4],[-3,-3.1],[-2,-3.9,-3.5],[-1,-6.05,-4.55,-4.2],[0,-4.7,-4.05],[1,-2.75,-4.4],[2,-4.15,-4.3],[3,-6.35,-2.8],[4,-3.45],[5,-3.1],[6,-5.7,-3.2],[7,-4.75],[8,-4.35,-3.3],[9,-4.15],[10,-4.95,-3],[11,-5.65,-2.7],[12,-2.8],[13,-5.25,-4.45],[14,-2.7],[15,-3],[16,-3.9],[17,-2.65,-3],[18,-2.75,-3.05],[19,-3],[20,-4.85,-3.4],[21,-3.1],[22,-2.7,-3.75],[23,-3.1,-5.85],[24,-3.7,-3.45],[25,-2.65,-4.5,-2.85],[26,-2.65,-3.05],[27,-3.2,-3.25],[28,-2.95],[29,-2.85,-3.25],[30,-3.3,-3],[31,-2.65,-3.55],[32,-2.9],[33,-3.35,-2.95],[34,-3,-3.15],[35,-3.95,-3.75],[36,-2.7,-2.75],[37,-3.95,-3.45],[38,-3.65],[39,-3.05,-2.7],[40,-2.75,-3.5],[41,-2.7],[42,-2.7,-3.55],[43,-2.5,-2.9],[44,-3.85,-3.7],[45,-2.8,-4.6],[46,-2.75,-3.4],[47,-3,-3.45],[48,-3.25],[49,-2.7],[50,-3.75],[51,-3.85],[52,-3.15],[53,-4.25],[54,-2.9]];
const snMaleEdge = [-19,-7,-4,-2,0,1,2,3,4,6,7,9,10,13,15,16];
const snFemaleEdge = [-10,5,23,26,27,38,41,42];

const srMale = [[-20,2.5,2.62,2.68,2.88],[-19,2.5,2.58,2.74,2.87,2.92],[-18,2.47,2.55,2.65,2.8,2.91],[-17,2.22,2.45,2.6,2.72,2.85],[-16,2.26,2.42,2.55,2.7,2.82],[-15,2.3,2.4,2.52,2.65,2.8,2.87],[-14,2.31,2.5,2.6,2.78,2.87],[-13,2.34,2.38,2.55,2.68,2.82,2.9],[-12,2.33,2.42,2.5,2.62,2.75,2.88,2.93],[-11,2.39,2.5,2.6,2.82,2.93],[-10,2.4,2.48,2.56,2.7,2.85,2.9],[-9,2.38,2.5,2.6,2.73,2.88,2.93],[-8,2.41,2.55,2.62,2.8,2.9],[-7,2.38,2.48,2.58,2.85,2.92],[-6,2.36,2.45,2.6,2.82,2.93],[-5,2.42,2.52,2.65,2.85,3],[-4,2.4,2.5,2.58,2.72,2.9,3.01],[-3,2.4,2.55,2.8,2.9,3.05],[-2,2.44,2.6,2.72,2.88,3.02,3.1],[-1,2.45,2.5,2.63,2.8,2.96,3.14],[1,2.33,2.52,2.68,2.83,2.98,3.24,3.12],[2,2.35,2.45,2.56,2.78,3.05,3.27,3.05],[3,2.42,2.58,2.68,2.9,3.28,3.16],[4,2.34,2.48,2.62,2.78,3,3.27,3.43],[5,2.36,2.5,2.65,2.9,3.05,3.27,3.36],[6,2.45,2.55,2.78,2.98,3.42,3.05],[7,2.32,2.42,2.52,2.85,3.02,3.32,3.23],[8,2.28,2.45,2.6,2.88,3.33,3.25],[9,2.25,2.38,2.55,2.82,3.35,3.18],[10,2.24,2.36,2.5,2.7,2.95,3.34],[11,2.28,2.42,2.53,2.86,3.34,3.2],[12,2.13,2.27,2.35,2.55,2.72,2.84,3.37,3.19],[13,2.12,2.23,2.32,2.52,2.67,2.87,3.39,3.08],[14,2.14,2.28,2.5,2.65,3.41,3.06],[15,2.18,2.68,2.82,3.41,3.08],[16,2.05,2.58,2.7,3.39,3.06],[18,2.88],[20,2.87],[21,2.86],[22,2.88],[23,2.85],[24,2.86]];
const srMaleDense = [[-20,2.54,2.58,2.66],[-19,2.54,2.62,2.8,2.84],[-18,2.5,2.6,2.7,2.76,2.84],[-17,2.5,2.55,2.66,2.78,2.88],[-16,2.46,2.5,2.62,2.76,2.86],[-15,2.44,2.56,2.6,2.74,2.84],[-14,2.38,2.46,2.56,2.68,2.82,2.92],[-13,2.44,2.5,2.6,2.74,2.86],[-12,2.46,2.56,2.68,2.8,2.9],[-11,2.44,2.54,2.64,2.76,2.88],[-10,2.52,2.6,2.64,2.78,2.94],[-9,2.44,2.54,2.66,2.78,2.9],[-8,2.46,2.58,2.68,2.84,2.95],[-7,2.44,2.54,2.64,2.78,2.88],[-6,2.4,2.5,2.66,2.76,2.88,2.98],[-5,2.46,2.58,2.7,2.8,2.92],[-4,2.44,2.55,2.64,2.8,2.96],[-3,2.45,2.6,2.7,2.85,3],[-2,2.5,2.56,2.68,2.8,2.94,3.06],[-1,2.4,2.56,2.7,2.86,3.02,3.08],[0,2.42,2.5,2.62,2.78,2.92,3.1],[1,2.44,2.58,2.76,2.9,3.02,3.18],[2,2.4,2.5,2.62,2.72,2.9,3],[3,2.36,2.5,2.62,2.84,2.98,3.1],[4,2.4,2.54,2.7,2.84,3.06,3.2],[5,2.42,2.56,2.72,2.84,2.98],[6,2.38,2.5,2.62,2.84,3.02],[7,2.36,2.46,2.6,2.78,2.92],[8,2.32,2.5,2.55,2.82,2.94],[9,2.3,2.42,2.6,2.76,2.88],[10,2.29,2.42,2.56,2.75,2.88],[11,2.34,2.48,2.58,2.8],[12,2.22,2.3,2.46,2.62,2.78],[13,2.28,2.26,2.4,2.6,2.72],[14,2.22,2.32,2.44,2.58,2.78],[15,2.6,2.74],[16,2.62,2.64]];
const srFemale = [[-20,2.6,2.72],[-19,2.78],[-18,2.84],[-17,2.96,2.62],[-16,2.92,2.55],[-15,3.16,2.75,2.48],[-14,3.18,2.92,2.42],[-13,3.14,2.76,2.52],[-12,3.09,2.94,2.5],[-11,3.09,2.77,2.43],[-10,3.12,2.8,2.55],[-9,3.08,2.92,2.42],[-8,3.07,2.76,2.5],[-7,3.05,2.8,2.55],[-6,3.02,2.94,2.57],[-5,3.04,2.82,2.48],[-4,3,2.85,2.6],[-3,2.98,2.84],[-2,2.84,2.6],[-1,2.85,2.55],[0,2.97,2.88,2.7],[1,2.98,2.78,2.6],[2,2.96,2.88,2.55],[3,2.97,2.72,2.5],[4,2.92,2.68,2.58],[5,2.95,2.85,2.72],[6,2.98,2.66],[7,3.05,2.65,2.5],[8,3.02,2.68,2.42],[9,3.03,2.67],[10,3.08,2.7,2.38],[11,3.1,2.38,2.65],[12,3,3.12,2.52,2.6],[13,2.94,2.45,2.58],[14,2.96,2.43],[15,2.98,2.41],[16,3,2.37],[17,3,2.38],[18,3,2.36,2.91],[19,3,2.38],[20,3,2.38,3.08],[21,2.97,2.37],[22,2.95,2.4,3.04],[23,2.93,2.4,3.12],[24,2.91,2.38,3.17],[25,2.97,2.39,3.27],[26,3.02,2.36,3.33],[27,2.93,2.36],[28,2.85,2.41],[29,3.01,2.49],[30,2.93,2.51],[31,2.9,2.44],[32,3.02,2.41],[33,2.9,2.51],[34,2.9,2.5],[35,2.95,2.49],[36,2.95,2.5],[37,2.96,2.41],[38,2.97,2.43],[39,2.99,2.42],[40,2.95,2.48],[41,3.01,2.46],[42,3.02,2.52],[43,3.03,2.57],[44,3.03,2.52],[45,3.02,2.55],[46,3,2.53],[47,3.06,2.59],[48,3],[49,3.02],[50,2.97],[51,2.98],[52,2.93],[53,2.9],[54,2.94],[55,2.95]];

const znMale = [[-20,3.46,3.32,3.25,3.14,3.01],[-19,3.35,3.28,3.2,3.12,2.91],[-18,3.38,3.3,3.22,3.13,3.04,2.78],[-17,3.35,3.27,3.18,3.1,3.03,2.83],[-16,3.33,3.28,3.2,3.12,3.04,2.85],[-15,3.43,3.3,3.22,3.12,3.05,2.91],[-14,3.44,3.32,3.24,3.15,3.03,2.95],[-13,3.42,3.3,3.23,3.14,3.07,3],[-12,3.44,3.34,3.25,3.18,3.08,3.02],[-11,3.4,3.3,3.2,3.12,3.05,2.99],[-10,3.42,3.33,3.22,3.15,3.06],[-9,3.38,3.28,3.18,3.1,3.07],[-8,3.45,3.36,3.25,3.15,3.05],[-7,3.47,3.38,3.28,3.17,3.05],[-6,3.42,3.32,3.2,3.12,3.02],[-5,3.5,3.44,3.3,3.18,3.1,3],[-4,3.55,3.42,3.34,3.2,3.08,3.02],[-3,3.47,3.38,3.26,3.15,3.03],[-2,3.44,3.3,3.2,3.08,2.98],[-1,3.5,3.42,3.28,3.15,3.02,2.95],[0,3.52,3.38,3.12,3.03],[1,3.5,3.35,3.22,3.08,2.96,2.92],[2,3.49,3.32,3.15,3.02],[3,3.48,3.4,3.25,3.08,3],[4,3.45,3.4,3.3,3.1,3.03],[5,3.4,3.32,3.2,3.05,2.84,2.73],[6,3.32,3.28,3.15,2.86,2.92,2.79],[7,3.43,3.35,3.2,3.1,2.76,2.88],[8,3.46,3.38,3.24,3.13,2.93,2.78],[9,3.48,3.28,3.18,3.09,2.85,2.71],[10,3.49,3.3,3.2,2.99,2.77],[11,3.52,3.3,3.22,3.12,2.91,2.78],[12,3.48,3.4,3.18,3.02,2.87,2.77],[13,3.48,3.4,3.25,3.12,2.92,2.8],[14,3.48,3.38,3.25,3.15,2.95],[15,3.48,3.4,3.2,2.95],[16,3.49,3.39,3.22,3],[17,3.02],[20,3.18],[21,3.12],[22,3.17],[24,3.25]];
const znMaleDense = [[-20,3.3,3.28,3.23,3.16],[-19,3.31,3.24,3.17,3.09],[-18,3.34,3.26,3.18,3.08],[-17,3.32,3.24,3.14,3.06],[-16,3.36,3.24,3.16,3.08],[-15,3.36,3.26,3.17,3.08],[-14,3.38,3.28,3.2,3.1],[-13,3.38,3.27,3.19,3.1,3.03],[-12,3.4,3.3,3.22,3.13,3.05],[-11,3.36,3.25,3.16,3.08],[-10,3.38,3.28,3.19,3.1],[-9,3.43,3.33,3.23,3.14],[-8,3.41,3.3,3.2,3.1,3.02],[-7,3.42,3.33,3.23,3.12,3],[-6,3.46,3.37,3.26,3.16,3.07],[-5,3.4,3.35,3.24,3.14,3.05],[-4,3.47,3.38,3.28,3.14,3.05],[-3,3.42,3.32,3.2,3.09,2.98],[-2,3.38,3.25,3.14,3.03],[-1,3.36,3.22,3.09,2.98],[0,3.45,3.32,3.18,3.08,2.97],[1,3.42,3.28,3.15,3.02],[2,3.4,3.24,3.09,2.96],[3,3.33,3.17,3.04,2.94],[4,3.33,3.2,3.06,2.98],[5,3.36,3.26,3.12,2.98,2.8],[6,3.37,3.22,3.08,2.88,2.78],[7,3.28,3.14,3.04,2.92,2.79],[8,3.31,3.18,3.08,2.88,2.82],[9,3.38,3.22,3.14,2.94,2.79],[10,3.34,3.26,3.1,2.9,2.82],[11,3.36,3.27,3.16,2.97,2.85],[12,3.32,3.25,3.12,2.94,2.83],[13,3.33,3.18,3.06,2.88],[14,3.42,3.32,3.2,3.02],[15,3.34,3.26,3.08],[16,3.28,3.12]];
const znFemale = [[-20,3.1,3.29,3.22],[-19,3.01,3.26],[-18,3.54,3.06],[-17,3.48,3.07],[-16,3.48,3.1],[-15,3.38,3.11],[-14,3.36,3.06],[-13,3.18,3.02,3.26],[-12,3.4,3.22],[-11,3,3.34,3.13],[-10,3.31,3.13],[-9,3.45,3.1,3.22],[-8,3.4,3.08],[-7,3.35,3.16],[-6,2.95,3.37,3.2],[-5,3.35,3.1],[-4,3.32,3.22],[-3,3.3,3,3.15],[-2,3.38,3.08,3.26],[-1,3.27,3.48],[0,3.2,3.02],[1,3.54,2.96,3.1],[2,3.44,3,3.2],[3,3.25,2.97],[4,3.27,3.02,2.94],[5,3.2,3.06],[6,3.15,2.92],[7,2.68,3.3,2.98],[8,2.65,3.28,3.05],[9,2.8,3.33,3],[10,3.33,2.97],[11,3.39,2.87],[12,3.24,3.08,2.96],[13,2.76,3.05,2.92],[14,3.24,2.98,2.91],[15,3.25,2.91],[16,2.99,3.33],[17,3.23,3.08],[18,2.9,3.28,3.13],[19,2.98,3.32,3.2],[20,3.29,3.1],[21,3.03,3.2],[22,3.22],[23,3.05],[24,3,3.17],[25,3.31,3.27,3.08],[26,3.26,3.06],[27,3.05,3.18],[28,3.25,3.04],[29,3.26,3.14],[30,3.48,3.12],[31,3.41,3.02,3.13],[32,3.34,3.04],[33,3.38,3.1],[34,3.39,3.08],[35,3.38,3.07],[36,3.44,3.06],[37,3.43,3.1],[38,3.4,3.07],[39,3.43,3.21],[40,3.37,2.99],[41,3.31,3.03],[42,3.35,3.12],[43,3.47,3.12],[44,3.41,3.11,3.05],[45,3.34,3.08],[46,3.32,3.09],[47,3.32,3.19,3.09],[48,3.06],[49,3.06],[50,2.98],[51,2.98],[52,2.97],[53,3.03],[54,3.04]];

// smooth curves: weeks, fit, lower and upper band
const coMaleFit = [[-20,-10,-5,0,5,10,15,20,24],[-5,-4.9,-4.8,-4.55,-4.2,-4.05,-4.25,-4.5,-5.06],[-5.6,-5.05,-4.98,-4.8,-4.4,-4.3,-4.5,-4.9,-6.77],[-4.5,-4.7,-4.62,-4.35,-4,-3.9,-3.9,-3.7,-3.2]];
const coFemaleFit = [[-20,-10,0,2,5,10,15,20,30,40,45,50,55],[-4.9,-4.56,-4.08,-3.97,-4.03,-4.16,-4.2,-4.16,-4.08,-4.08,-4.15,-4.27,-4.48],[-5.5,-4.8,-4.3,-4.2,-4.25,-4.4,-4.45,-4.5,-4.4,-4.45,-4.6,-5.1,-5.85],[-4.3,-4.3,-3.85,-3.75,-3.8,-3.95,-3.95,-3.9,-3.8,-3.75,-3.6,-3.2,-2.82]];
const cuMaleFit = [[-20,-15,-10,-5,0,5,10,15,20,24],[-2.2,-2.43,-2.59,-2.68,-2.72,-2.74,-2.78,-2.83,-2.99,-3.1],[-2.3,-2.48,-2.62,-2.71,-2.75,-2.77,-2.81,-2.88,-3.09,-3.35],[-2.1,-2.38,-2.56,-2.65,-2.69,-2.71,-2.75,-2.78,-2.89,-2.85]];
const cuFemaleFit = [[-20,-15,-10,-5,0,5,10,15,20,30,40,50,55],[-2.33,-2.5,-2.61,-2.67,-2.68,-2.7,-2.73,-2.75,-2.78,-2.8,-2.79,-2.77,-2.75],[-2.43,-2.55,-2.64,-2.7,-2.71,-2.73,-2.76,-2.79,-2.83,-2.85,-2.84,-2.87,-2.94],[-2.23,-2.45,-2.58,-2.64,-2.65,-2.67,-2.7,-2.71,-2.73,-2.75,-2.74,-2.67,-2.56]];
const crMaleFit = [[-20,-10,-5,0,5,10,15,18,20,24],[-0.935,-0.915,-0.917,-0.932,-0.948,-0.96,-1,-1.055,-1.1,-1.21],[-0.99,-0.935,-0.937,-0.952,-0.968,-0.98,-1.03,-1.095,-1.17,-1.31],[-0.87,-0.895,-0.897,-0.912,-0.928,-0.94,-0.97,-1.015,-1.03,-1.11]];
const crFemaleFit = [[-20,-15,-10,-5,0,5,10,15,20,25,30,35,40,45,50,54],[-0.937,-0.924,-0.92,-0.926,-0.937,-0.951,-0.96,-0.96,-0.945,-0.942,-0.944,-0.958,-0.984,-1.008,-1.04,-1.07],[-0.967,-0.944,-0.94,-0.946,-0.957,-0.971,-0.98,-0.98,-0.975,-0.977,-0.979,-0.993,-1.024,-1.05,-1.09,-1.145],[-0.907,-0.904,-0.9,-0.906,-0.917,-0.931,-0.94,-0.94,-0.915,-0.907,-0.909,-0.923,-0.944,-0.966,-0.99,-0.995]];
const liMaleFit = [[-20,-15,-10,-5,0,5,10,15,20,24],[-3.52,-3.72,-3.87,-3.95,-4.01,-4.03,-4.05,-4.19,-4.39,-4.61],[-3.67,-3.82,-3.95,-4.03,-4.09,-4.11,-4.15,-4.39,-4.84,-5.29],[-3.37,-3.62,-3.79,-3.87,-3.93,-3.95,-3.95,-3.99,-3.94,-3.87]];
const liFemaleFit = [[-20,-15,-10,-5,0,5,10,15,20,30,40,50,54],[-3.31,-3.52,-3.68,-3.8,-3.87,-3.91,-3.83,-3.64,-3.42,-3.11,-2.81,-2.56,-2.42],[-3.51,-3.65,-3.78,-3.9,-3.97,-4.01,-3.93,-3.76,-3.57,-3.31,-3.06,-2.91,-3.03],[-3.11,-3.39,-3.58,-3.7,-3.77,-3.81,-3.73,-3.52,-3.27,-2.91,-2.56,-2.21,-1.79]];
const moMaleFit = [[-20,-10,-5,0,3,5,10,15,20,24],[-4.85,-5.2,-5.48,-5.66,-5.72,-5.7,-5.54,-5.23,-4.93,-4.4],[-5.6,-5.45,-5.75,-5.96,-6.02,-6,-5.84,-5.58,-5.63,-6.5],[-4.2,-4.95,-5.2,-5.36,-5.42,-5.4,-5.24,-4.88,-4.23,-2.65]];
const moFemaleFit = [[-20,-15,-10,-5,0,2,5,10,14,20,30,40,50,55],[-5.13,-5.25,-5.45,-5.72,-6.03,-6.07,-5.94,-5.54,-5.44,-5.48,-5.56,-5.66,-5.87,-6.1],[-6.15,-5.7,-5.75,-6.02,-6.38,-6.42,-6.25,-5.84,-5.75,-5.88,-5.91,-6.16,-6.9,-7.46],[-4.2,-4.85,-5.15,-5.42,-5.68,-5.72,-5.63,-5.24,-5.13,-5.08,-5.21,-5.2,-4.9,-4.5]];
const mgMaleFit = [[-20,-15,-10,-5,0,5,10,15,20,24],[7.508,7.572,7.626,7.657,7.665,7.665,7.66,7.64,7.59,7.528],[7.49,7.557,7.611,7.642,7.65,7.65,7.645,7.62,7.55,7.46],[7.526,7.587,7.641,7.672,7.68,7.68,7.675,7.66,7.63,7.606]];
const mgFemaleFit = [[-20,-15,-10,-5,0,5,10,15,20,30,40,50,54],[7.496,7.557,7.606,7.633,7.643,7.648,7.652,7.65,7.643,7.635,7.626,7.626,7.628],[7.476,7.542,7.594,7.621,7.631,7.636,7.64,7.635,7.623,7.617,7.608,7.596,7.57],[7.516,7.572,7.618,7.645,7.655,7.66,7.664,7.665,7.663,7.653,7.644,7.656,7.675]];
const snMaleFit = [[-20,-10,-5,0,5,10,15,20,24],[-3.09,-3.33,-3.47,-3.63,-3.72,-3.71,-3.63,-3.43,-3.22],[-3.39,-3.46,-3.6,-3.76,-3.85,-3.84,-3.83,-3.83,-3.97],[-2.79,-3.2,-3.34,-3.5,-3.59,-3.58,-3.43,-3.03,-2.4]];
const snFemaleFit = [[-20,-10,-5,0,2,5,10,15,20,30,40,50,54],[-3.25,-3.38,-3.47,-3.56,-3.59,-3.54,-3.47,-3.47,-3.49,-3.56,-3.62,-3.62,-3.59],[-3.45,-3.48,-3.58,-3.68,-3.71,-3.67,-3.6,-3.65,-3.74,-3.76,-3.82,-3.95,-4.1],[-3.05,-3.28,-3.36,-3.44,-3.47,-3.41,-3.34,-3.29,-3.24,-3.36,-3.42,-3.29,-3.09]];
const srMaleFit = [[-20,-15,-10,-5,0,5,10,15,20,24],[2.65,2.65,2.658,2.693,2.736,2.774,2.793,2.797,2.802,2.806],[2.58,2.61,2.623,2.658,2.701,2.739,2.753,2.747,2.712,2.61],[2.72,2.69,2.693,2.728,2.771,2.809,2.833,2.847,2.892,2.98]];
const srFemaleFit = [[-20,-10,-5,0,3,10,20,30,40,50,54],[2.684,2.693,2.719,2.748,2.76,2.757,2.757,2.766,2.797,2.866,2.9],[2.634,2.663,2.689,2.718,2.73,2.727,2.717,2.716,2.727,2.756,2.757],[2.734,2.723,2.749,2.778,2.79,2.787,2.797,2.816,2.867,2.976,3.04]];
const znMaleFit = [[-20,-15,-10,-5,0,5,9,12,15,20,24],[3.243,3.266,3.254,3.22,3.185,3.156,3.147,3.15,3.168,3.237,3.304],[3.213,3.241,3.234,3.2,3.165,3.136,3.127,3.128,3.138,3.177,3.174],[3.273,3.291,3.274,3.24,3.205,3.176,3.167,3.172,3.198,3.297,3.427]];
const znFemaleFit = [[-20,-15,-10,-5,0,5,9,12,15,20,25,30,35,40,45,50,54],[3.197,3.243,3.246,3.208,3.145,3.093,3.076,3.081,3.104,3.15,3.174,3.185,3.187,3.18,3.162,3.133,3.11],[3.157,3.218,3.226,3.188,3.125,3.073,3.056,3.061,3.084,3.125,3.147,3.155,3.157,3.15,3.125,3.073,3.05],[3.237,3.268,3.266,3.228,3.165,3.113,3.096,3.101,3.124,3.175,3.201,3.215,3.217,3.21,3.199,3.193,3.19]];

const xTicks = [-20, 0, 20, 40];
const xMinor = [-10, 10, 30, 50];
const seriesColors = { Male: "#E31A26", Female: "#2177B8" };

const panels = [
  { name: "Co", male: coMale.concat(coMaleDense), female: coFemale, maleFit: coMaleFit, femaleFit: coFemaleFit, maleEdge: coMaleEdge, femaleEdge: coFemaleEdge, edge: -0.35,
    ticks: [0, -2.5, -5, -7.5, -10, -12.5], minor: [-1.25, -3.75, -6.25, -8.75, -11.25], fmt: ".1f", yDomain: [-13.15, 0.28], box: [109, 413, 128, 411], titleX: 32 },
  { name: "Cu", male: cuMale.concat(cuMaleDense), female: cuFemale, maleFit: cuMaleFit, femaleFit: cuFemaleFit,
    ticks: [-1, -2, -3, -4, -5], minor: [-1.5, -2.5, -3.5, -4.5], fmt: "d", yDomain: [-5.38, -0.95], box: [507, 842, 128, 411], titleX: 461 },
  { name: "Cr", male: crMale.concat(crMaleDense), female: crFemale, maleFit: crMaleFit, femaleFit: crFemaleFit,
    ticks: [-0.5, -0.75, -1, -1.25], minor: [-0.625, -0.875, -1.125, -1.375], fmt: ".2f", yDomain: [-1.4275, -0.4925], box: [967, 1269, 128, 411], titleX: 889 },
  { name: "Li", male: liMale.concat(liMaleDense), female: liFemale, maleFit: liMaleFit, femaleFit: liFemaleFit, maleEdge: liMaleEdge, femaleEdge: liFemaleEdge, edge: -7.85,
    ticks: [-2, -4, -6, -8], minor: [-3, -5, -7], fmt: "d", yDomain: [-8.13, -1.48], box: [78, 413, 507, 789], titleX: 32 },
  { name: "Mo", male: moMale.concat(moMaleDense, moMaleExtra), female: moFemale, maleFit: moMaleFit, femaleFit: moFemaleFit, maleEdge: moMaleEdge, femaleEdge: moFemaleEdge, edge: -12.1,
    ticks: [-2.5, -5, -7.5, -10, -12.5], minor: [-3.75, -6.25, -8.75, -11.25], fmt: ".1f", yDomain: [-12.53, -2.18], box: [538, 842, 507, 789], titleX: 461 },
  { name: "Mg", male: mgMale.concat(mgMaleDense), female: mgFemale, maleFit: mgMaleFit, femaleFit: mgFemaleFit,
    ticks: [7.9, 7.7, 7.5, 7.3, 7.1], minor: [7.8, 7.6, 7.4, 7.2], fmt: ".1f", yDomain: [7.09, 7.918], box: [947, 1269, 507, 789], titleX: 889 },
  { name: "Sn", male: snMale.concat(snMaleDense), female: snFemale, maleFit: snMaleFit, femaleFit: snFemaleFit, maleEdge: snMaleEdge, femaleEdge: snFemaleEdge, edge: -7.76,
    ticks: [-2, -4, -6, -8], minor: [-3, -5, -7], fmt: "d", yDomain: [-8.037, -1.89], box: [78, 413, 885, 1168], titleX: 32 },
  { name: "Sr", male: srMale.concat(srMaleDense), female: srFemale, maleFit: srMaleFit, femaleFit: srFemaleFit,
    ticks: [3, 2.5], minor: [3.25, 2.75, 2.25], fmt: ".1f", yDomain: [2.019, 3.491], box: [518, 842, 885, 1168], titleX: 461 },
  { name: "Zn", male: znMale.concat(znMaleDense), female: znFemale, maleFit: znMaleFit, femaleFit: znFemaleFit,
    ticks: [3.4, 3.2, 3, 2.8], minor: [3.5, 3.3, 3.1, 2.9, 2.7], fmt: ".1f", yDomain: [2.611, 3.5876], box: [947, 1269, 885, 1168], titleX: 889 }
];

const svg = d3.select("#chart");

// rows to flat points
const flatten = rows => rows.flatMap(([week, ...ys]) => ys.map(y => ({ week, y })));

panels.forEach((p, n) => {
  const [left, right, top, bottom] = p.box;
  const x = d3.scaleLinear().domain([-23.75, 57.75]).range([left, right]);
  const y = d3.scaleLinear().domain(p.yDomain).range([bottom, top]);

  const g = svg.append("g");
  const clipId = "clip" + n;
  g.append("clipPath").attr("id", clipId).append("rect")
    .attr("x", left).attr("y", top).attr("width", right - left).attr("height", bottom - top);

  g.append("rect").attr("x", left).attr("y", top).attr("width", right - left).attr("height", bottom - top)
    .attr("fill", "#EBEBEB");

  // grid
  const grid = (vals, w) => {
    g.selectAll(null).data(vals.filter(v => x(v) >= left && x(v) <= right)).join("line")
      .attr("x1", d => x(d)).attr("x2", d => x(d)).attr("y1", top).attr("y2", bottom)
      .attr("stroke", "#fff").attr("stroke-width", w);
  };
  const gridY = (vals, w) => {
    g.selectAll(null).data(vals).join("line")
      .attr("x1", left).attr("x2", right).attr("y1", d => y(d)).attr("y2", d => y(d))
      .attr("clip-path", `url(#${clipId})`)
      .attr("stroke", "#fff").attr("stroke-width", w);
  };
  grid(xMinor, 0.9); gridY(p.minor, 0.9);
  grid(xTicks, 1.8); gridY(p.ticks, 1.8);

  // points: a third of the female ones sit under the male ones, the rest on top
  const plot = g.append("g").attr("clip-path", `url(#${clipId})`);
  const female = flatten(p.female);
  const dots = (data, color) => plot.append("g").selectAll("circle").data(data).join("circle")
    .attr("cx", d => x(d.week)).attr("cy", d => y(d.y)).attr("r", 4.6).attr("fill", color);
  if (p.femaleEdge) dots(p.femaleEdge.map(week => ({ week, y: p.edge })), seriesColors.Female);
  dots(female.filter((d, i) => i % 3 === 0), seriesColors.Female);
  if (p.maleEdge) dots(p.maleEdge.map(week => ({ week, y: p.edge })), seriesColors.Male);
  dots(flatten(p.male), seriesColors.Male);
  dots(female.filter((d, i) => i % 3 !== 0), seriesColors.Female);

  // birth line
  plot.append("line").attr("x1", x(0)).attr("x2", x(0)).attr("y1", top).attr("y2", bottom)
    .attr("stroke", "#000").attr("stroke-width", 2.2);

  // smooth curves and bands
  const drawFit = ([weeks, fit, lo, hi], color) => {
    const idx = d3.range(weeks.length);
    plot.append("path").datum(idx)
      .attr("d", d3.area().x(i => x(weeks[i])).y0(i => y(lo[i])).y1(i => y(hi[i])).curve(d3.curveMonotoneX))
      .attr("fill", "#999").attr("fill-opacity", 0.4);
    plot.append("path").datum(idx)
      .attr("d", d3.line().x(i => x(weeks[i])).y(i => y(fit[i])).curve(d3.curveMonotoneX))
      .attr("fill", "none").attr("stroke", color).attr("stroke-width", 4.8);
  };
  drawFit(p.maleFit, seriesColors.Male);
  drawFit(p.femaleFit, seriesColors.Female);

  // axes
  const styleAxis = a => {
    a.select(".domain").remove();
    a.selectAll(".tick line").attr("stroke", "#333").attr("stroke-width", 2);
    a.selectAll(".tick text").attr("fill", "#4D4D4D").style("font-size", "21.5px")
      .style("font-family", '"Liberation Sans", Arial, sans-serif');
  };
  g.append("g").attr("transform", `translate(0,${bottom})`)
    .call(d3.axisBottom(x).tickValues(xTicks).tickFormat(d3.format("d")).tickSize(7).tickPadding(6))
    .call(styleAxis)
    .call(a => a.selectAll(".tick text").text(d => String(d)));
  g.append("g").attr("transform", `translate(${left},0)`)
    .call(d3.axisLeft(y).tickValues(p.ticks).tickFormat(d3.format(p.fmt)).tickSize(7).tickPadding(6))
    .call(styleAxis)
    .call(a => a.selectAll(".tick text").text(d => d3.format(p.fmt)(d).replace("\u2212", "-")));

  g.append("text").attr("transform", `translate(${p.titleX},${(top + bottom) / 2}) rotate(-90)`)
    .attr("text-anchor", "middle").attr("font-size", 26.4).attr("fill", "#000").text(p.name);
});

svg.append("text").attr("x", 641).attr("y", 34).attr("text-anchor", "middle")
  .attr("font-size", 30.5).attr("fill", "#111").text("Dentine Metal levels (as metal:43Ca))");
svg.append("text").attr("x", 641).attr("y", 1279).attr("text-anchor", "middle")
  .attr("font-size", 30.5).attr("fill", "#111").text("Weeks Since Birth");

// legend
const legend = svg.append("g");
[["Male", 521, 579], ["Female", 642, 700]].forEach(([label, kx, tx]) => {
  legend.append("rect").attr("x", kx).attr("y", 56.5).attr("width", 44.5).attr("height", 44.5).attr("fill", "#CCCCCC");
  legend.append("line").attr("x1", kx + 5).attr("x2", kx + 40).attr("y1", 78.7).attr("y2", 78.7)
    .attr("stroke", seriesColors[label]).attr("stroke-width", 4.8);
  legend.append("circle").attr("cx", kx + 22.2).attr("cy", 78.7).attr("r", 4.4).attr("fill", seriesColors[label]);
  legend.append("text").attr("x", tx).attr("y", 87).attr("font-size", 22.5).attr("fill", "#111").text(label);
});
</script>
</body>
</html>
